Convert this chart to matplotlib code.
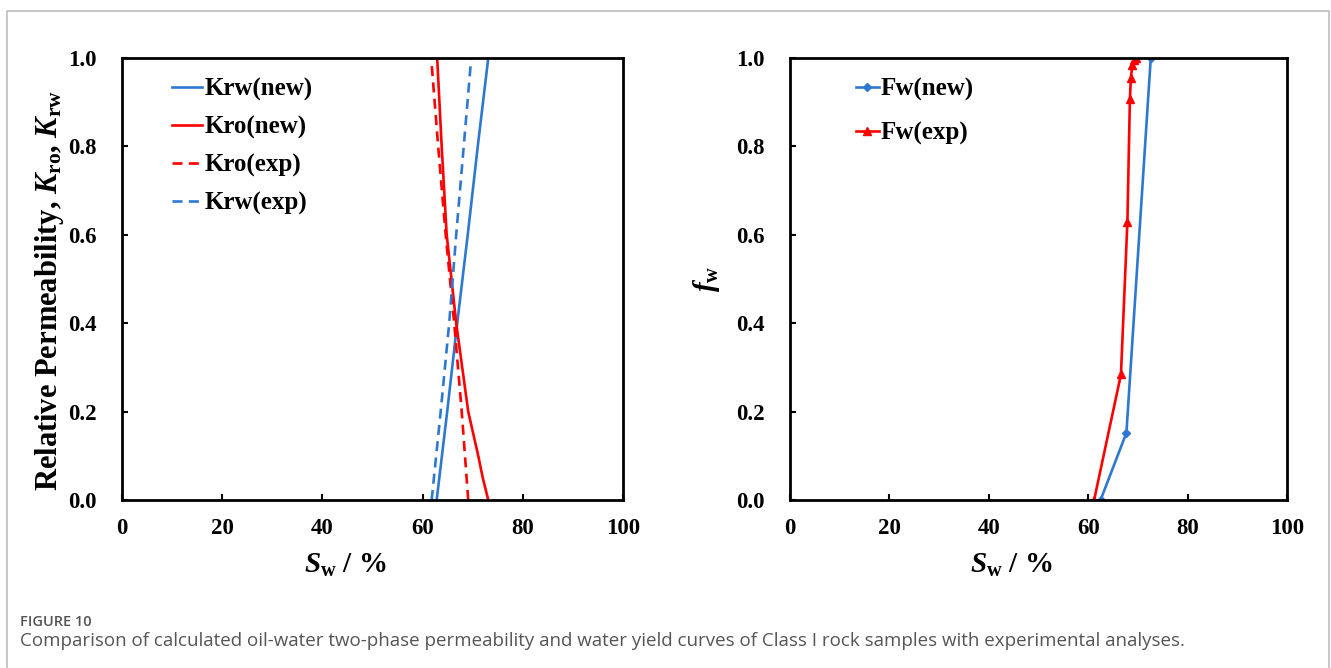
import numpy as np
import matplotlib
matplotlib.use("Agg")
from matplotlib import pyplot as plt
from matplotlib.lines import Line2D

plt.rcParams['font.family'] = ['Liberation Serif', 'DejaVu Serif']
plt.rcParams['font.weight'] = 'bold'
plt.rcParams['axes.labelweight'] = 'bold'
plt.rcParams['mathtext.fontset'] = 'custom'
plt.rcParams['mathtext.rm'] = 'Liberation Serif:bold'
plt.rcParams['mathtext.it'] = 'Liberation Serif:italic:bold'
plt.rcParams['mathtext.bf'] = 'Liberation Serif:bold'

# relative permeability curves (Sw in %, K)
krw_new_sw = [62.8, 64.9, 66.9, 69.0, 71.0, 73.1]
krw_new_k = [0.0, 0.2, 0.4, 0.6, 0.8, 1.0]
kro_new_sw = [73.1, 72.0, 71.1, 69.1, 66.7, 64.8, 63.8, 62.9]
kro_new_k = [0.0, 0.05, 0.1, 0.2, 0.4, 0.6, 0.8, 1.0]
kro_exp_sw = [69.1, 67.8, 66.3, 64.6, 63.1, 61.7]
kro_exp_k = [0.0, 0.2, 0.4, 0.6, 0.8, 1.0]
krw_exp_sw = [61.8, 63.6, 65.3, 66.7, 68.2, 69.7]
krw_exp_k = [0.0, 0.2, 0.4, 0.6, 0.8, 1.0]

# water cut curves
fw_new_sw = [62.5, 67.7, 72.6]
fw_new = [0.0, 0.152, 1.0]
fw_exp_sw = [61.2, 66.6, 67.9, 68.4, 68.6, 68.9, 69.2, 69.6]
fw_exp = [0.0, 0.284, 0.63, 0.907, 0.955, 0.984, 0.995, 1.0]

blue = '#2E78D2'
red = '#FF0000'
dash = (0, (3.8, 2.4))
lw = 1.9

fig = plt.figure(figsize=(13.31, 6.68), dpi=100)
ax1 = fig.add_axes([0.0917, 0.2515, 0.3764, 0.6617])
ax2 = fig.add_axes([0.5935, 0.2515, 0.3734, 0.6617])

ax1.plot(krw_new_sw, krw_new_k, color=blue, lw=lw, label='Krw(new)')
ax1.plot(kro_new_sw, kro_new_k, color=red, lw=lw, label='Kro(new)')
ax1.plot(kro_exp_sw, kro_exp_k, color=red, lw=lw, ls=dash, label='Kro(exp)')
ax1.plot(krw_exp_sw, krw_exp_k, color=blue, lw=lw, ls=dash, label='Krw(exp)')

ax2.plot(fw_new_sw, fw_new, color=blue, lw=lw, marker='D', ms=4, label='Fw(new)')
ax2.plot(fw_exp_sw, fw_exp, color=red, lw=lw, marker='^', ms=5.5, label='Fw(exp)')

for ax in (ax1, ax2):
    ax.set_xlim(0, 100)
    ax.set_ylim(0, 1.0)
    ax.set_xticks(np.arange(0, 101, 20))
    ax.set_yticks(np.arange(0, 1.01, 0.2))
    ax.yaxis.set_major_formatter(matplotlib.ticker.FormatStrFormatter('%.1f'))
    ax.tick_params(direction='in', length=4, width=1.5, labelsize=16.5)
    ax.tick_params(axis='y', pad=18)
    ax.tick_params(axis='x', pad=13)
    for s in ax.spines.values():
        s.set_linewidth(2.0)
    ax.set_xlabel(r'$S_{\mathrm{w}}$ / %', fontsize=21)
    ax.xaxis.set_label_coords(0.445, -0.117)

ax1.set_ylabel(r'Relative Permeability, $K_{\mathrm{ro}}$, $K_{\mathrm{rw}}$', fontsize=22)
ax1.yaxis.set_label_coords(-0.112, 0.473)
ax2.set_ylabel(r'$f_{\mathrm{w}}$', fontsize=21, labelpad=10)

ax1.legend(loc='upper left', bbox_to_anchor=(0.1, 0.955), frameon=False,
           fontsize=18, handlelength=1.2, handletextpad=0.08,
           labelspacing=0.58, borderpad=0, borderaxespad=0)
ax2.legend(loc='upper left', bbox_to_anchor=(0.133, 0.955), frameon=False,
           fontsize=18, handlelength=0.9, handletextpad=0.08,
           labelspacing=0.8, borderpad=0, borderaxespad=0)

# figure frame
fx0, fx1, fy1 = 7 / 1331, 1329 / 1331, 1 - 11 / 668
fig.add_artist(Line2D([fx0, fx0, fx1, fx1], [0, fy1, fy1, 0],
                      transform=fig.transFigure, color='#bdbdbd', lw=1.2))

fig.text(20 / 1331, 1 - 622 / 668, 'FIGURE 10', fontsize=10.5, color='#555555',
         family='Open Sans', weight='semibold', va='center')
fig.text(20 / 1331, 1 - 641 / 668,
         'Comparison of calculated oil-water two-phase permeability and water yield curves '
         'of Class I rock samples with experimental analyses.',
         fontsize=13.5, color='#555555', family='Open Sans', weight='normal', va='center')

fig.savefig('out.png', dpi=100)
